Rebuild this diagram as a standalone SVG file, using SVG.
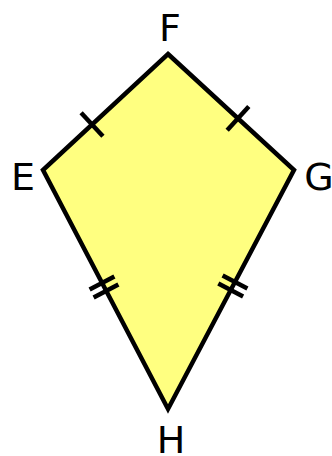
<svg xmlns="http://www.w3.org/2000/svg" width="332" height="456" viewBox="0 0 332 456">
<style>
.lbl{font-family:"DejaVu Sans",sans-serif;font-size:38px;fill:#000}
.tk{stroke:#000;stroke-width:4.5;fill:none}
</style>
<rect width="332" height="456" fill="#fff"/>
<g id="kite">
<polygon points="168,54 294,170 168,409 43,170" fill="#ffff80" stroke="#000" stroke-width="4.5" stroke-linejoin="miter"/>
</g>
<g id="ticks">
<line class="tk" x1="81.1" y1="112.8" x2="102.9" y2="136.2"/>
<line class="tk" x1="227.2" y1="130.2" x2="248.8" y2="106.6"/>
<line class="tk" x1="89.6" y1="289.5" x2="114.4" y2="276.5"/>
<line class="tk" x1="93.6" y1="297.5" x2="118.4" y2="284.5"/>
<line class="tk" x1="222.6" y1="275.5" x2="247.4" y2="288.5"/>
<line class="tk" x1="218.3" y1="283.5" x2="243.1" y2="296.5"/>
</g>
<g id="F"><text class="lbl" x="170" y="41" text-anchor="middle">F</text></g>
<g id="E"><text class="lbl" x="23" y="190" text-anchor="middle">E</text></g>
<g id="G"><text class="lbl" x="319" y="190" text-anchor="middle">G</text></g>
<g id="H"><text class="lbl" x="171" y="453" text-anchor="middle">H</text></g>
</svg>
